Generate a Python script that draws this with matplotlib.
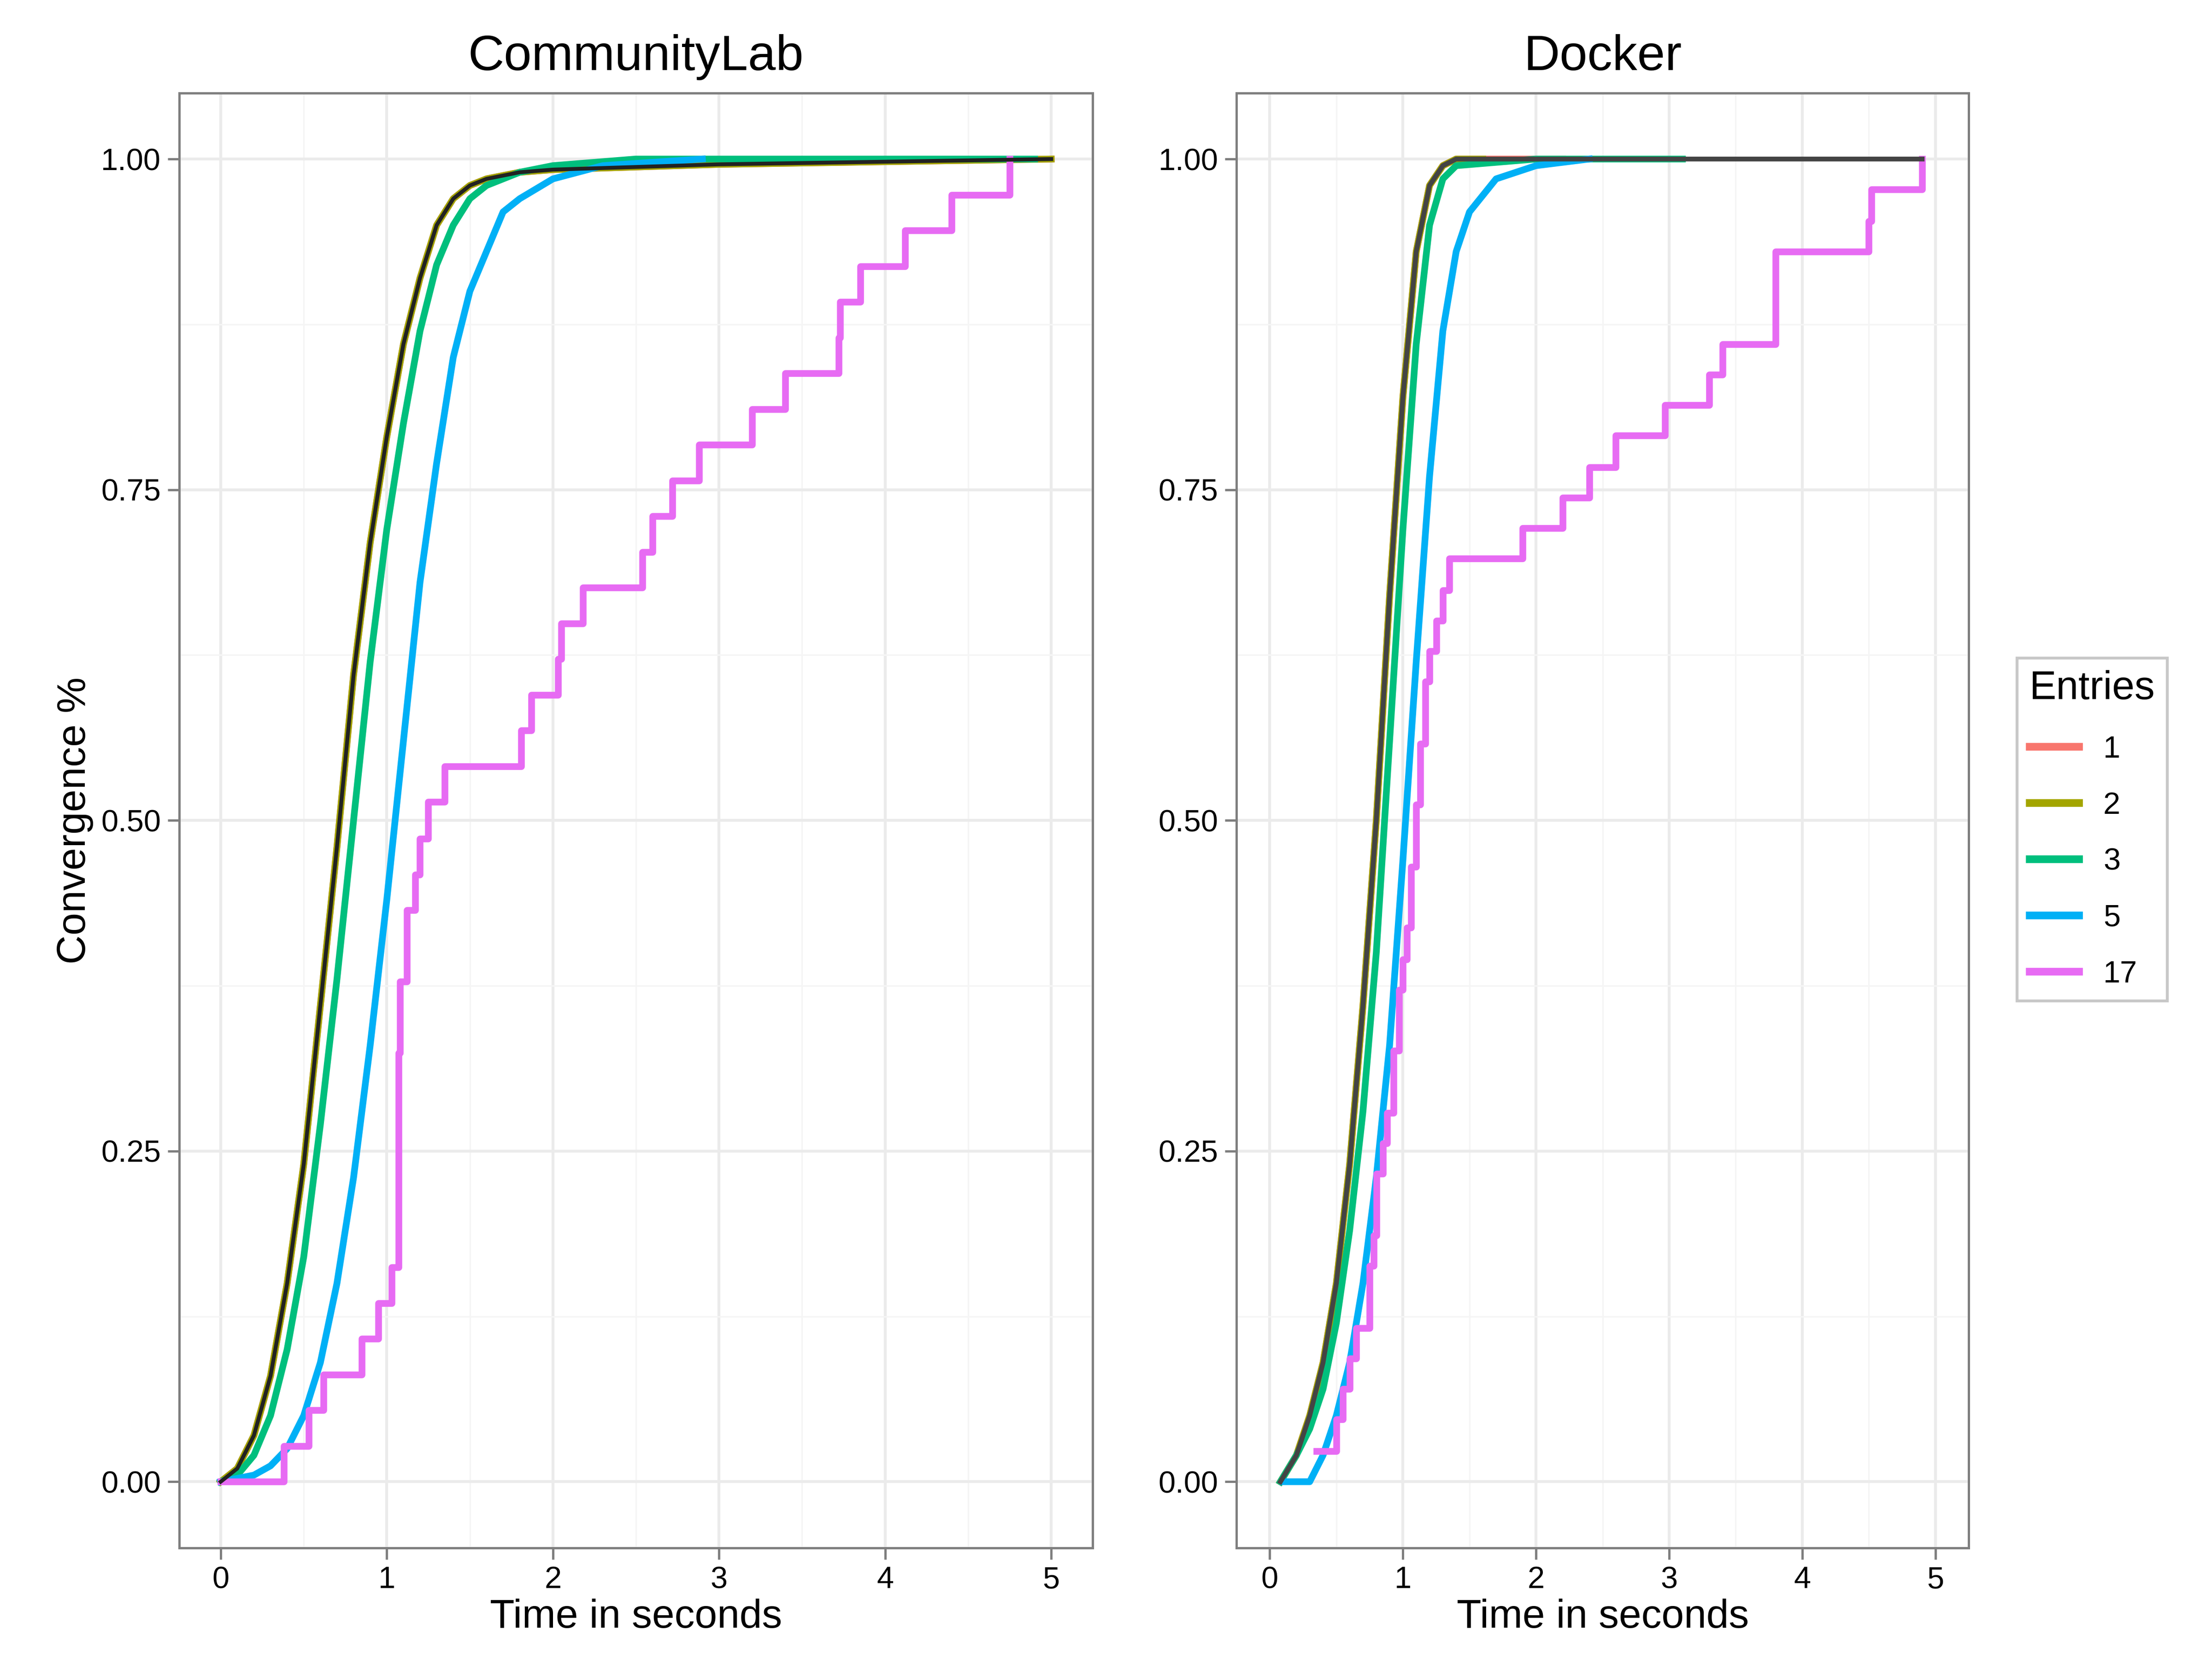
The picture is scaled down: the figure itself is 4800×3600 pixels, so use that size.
import numpy as np
import matplotlib.pyplot as plt
from matplotlib.lines import Line2D

entries = ['1', '2', '3', '5', '17']
colors = ['#F8766D', '#A3A500', '#00BF7D', '#00B0F6', '#E76BF3']

# CommunityLab smooth ECDF knots (time, fraction)
cl_fast_t = [0, 0.1, 0.2, 0.3, 0.4, 0.5, 0.6, 0.7, 0.8, 0.9, 1.0, 1.1, 1.2, 1.3, 1.4, 1.5, 1.6, 1.8, 2.0, 3.0, 4.0, 5.0]
cl_fast_y = [0, 0.01, 0.035, 0.08, 0.15, 0.24, 0.36, 0.48, 0.61, 0.71, 0.79, 0.86, 0.91, 0.95, 0.97, 0.98, 0.985, 0.99, 0.992, 0.996, 0.998, 1.0]
cl_green_t = [0, 0.1, 0.2, 0.3, 0.4, 0.5, 0.6, 0.7, 0.8, 0.9, 1.0, 1.1, 1.2, 1.3, 1.4, 1.5, 1.6, 1.8, 2.0, 2.5, 4.9]
cl_green_y = [0, 0.005, 0.02, 0.05, 0.1, 0.17, 0.27, 0.38, 0.5, 0.62, 0.72, 0.8, 0.87, 0.92, 0.95, 0.97, 0.98, 0.99, 0.995, 1.0, 1.0]
cl_blue_t = [0, 0.2, 0.3, 0.4, 0.5, 0.6, 0.7, 0.8, 0.9, 1.0, 1.1, 1.2, 1.3, 1.4, 1.5, 1.6, 1.7, 1.8, 2.0, 2.3, 2.9]
cl_blue_y = [0, 0.005, 0.012, 0.025, 0.05, 0.09, 0.15, 0.23, 0.33, 0.44, 0.56, 0.68, 0.77, 0.85, 0.9, 0.93, 0.96, 0.97, 0.985, 0.995, 1.0]
cl_17_t = [0, 0.38, 0.53, 0.62, 0.85, 0.95, 1.03, 1.07, 1.08, 1.12, 1.17, 1.2, 1.25, 1.35, 1.47, 1.81, 1.87,
           2.03, 2.05, 2.18, 2.54, 2.6, 2.72, 2.88, 3.2, 3.4, 3.72, 3.73, 3.85, 4.12, 4.4, 4.75]
cl_17_y = [0, 0.027, 0.054, 0.081, 0.108, 0.135, 0.162, 0.324, 0.378, 0.432, 0.459, 0.486, 0.514, 0.541, 0.541,
           0.568, 0.595, 0.622, 0.649, 0.676, 0.703, 0.73, 0.757, 0.784, 0.811, 0.838, 0.865, 0.892, 0.919,
           0.946, 0.973, 1.0]

# Docker smooth ECDF knots
dk_fast_t = [0.08, 0.2, 0.3, 0.4, 0.5, 0.6, 0.7, 0.8, 0.9, 1.0, 1.1, 1.2, 1.3, 1.4, 1.6]
dk_fast_y = [0, 0.02, 0.05, 0.09, 0.15, 0.24, 0.36, 0.5, 0.67, 0.82, 0.93, 0.98, 0.995, 1.0, 1.0]
dk_red_end, dk_olive_end, dk_black_end = 2.2, 1.6, 4.9
dk_green_t = [0.08, 0.2, 0.3, 0.4, 0.5, 0.6, 0.7, 0.8, 0.9, 1.0, 1.1, 1.2, 1.3, 1.4, 2.0, 3.1]
dk_green_y = [0, 0.02, 0.04, 0.07, 0.12, 0.19, 0.28, 0.4, 0.56, 0.72, 0.86, 0.95, 0.985, 0.995, 1.0, 1.0]
dk_blue_t = [0.1, 0.3, 0.4, 0.5, 0.6, 0.7, 0.8, 0.9, 1.0, 1.1, 1.2, 1.3, 1.4, 1.5, 1.7, 2.0, 2.4]
dk_blue_y = [0, 0.0, 0.02, 0.05, 0.09, 0.15, 0.23, 0.33, 0.47, 0.62, 0.76, 0.87, 0.93, 0.96, 0.985, 0.995, 1.0]
dk_17_t = [0.35, 0.5, 0.55, 0.6, 0.65, 0.75, 0.78, 0.8, 0.85, 0.88, 0.93, 0.97, 1.0, 1.03, 1.06, 1.1, 1.13, 1.17,
           1.2, 1.25, 1.3, 1.35, 1.9, 2.2, 2.4, 2.6, 2.97, 3.3, 3.4, 3.8, 4.5, 4.52, 4.9]
dk_17_y = [0.023, 0.047, 0.07, 0.093, 0.116, 0.163, 0.186, 0.233, 0.256, 0.279, 0.326, 0.372, 0.395, 0.419, 0.465,
           0.512, 0.558, 0.605, 0.628, 0.651, 0.674, 0.698, 0.721, 0.744, 0.767, 0.791, 0.814, 0.837, 0.86, 0.93,
           0.953, 0.977, 1.0]


def clip(t, y, end):
    t = np.array(t); y = np.array(y)
    m = t <= end
    return np.append(t[m], end), np.append(y[m], np.interp(end, t, y))


def style(ax, title):
    ax.set_facecolor('white')
    ax.set_xlim(-0.25, 5.25)
    ax.set_ylim(-0.05, 1.05)
    ax.set_xticks([0, 1, 2, 3, 4, 5])
    ax.set_xticks(np.arange(0.5, 5, 1), minor=True)
    ax.set_yticks([0, 0.25, 0.5, 0.75, 1.0])
    ax.set_yticklabels(['0.00', '0.25', '0.50', '0.75', '1.00'])
    ax.set_yticks([0.125, 0.375, 0.625, 0.875], minor=True)
    ax.grid(True, which='major', color='#EBEBEB', lw=1.5)
    ax.grid(True, which='minor', color='#F5F5F5', lw=0.8)
    ax.set_axisbelow(True)
    for s in ax.spines.values():
        s.set_color('#7F7F7F'); s.set_linewidth(1.2)
    ax.tick_params(which='major', length=6, color='#7F7F7F', labelsize=16, width=1.2)
    ax.tick_params(which='minor', length=0)
    ax.set_title(title, fontsize=26, pad=12)
    ax.set_xlabel('Time in seconds', fontsize=21, labelpad=2)


plt.rcParams['font.family'] = ['Liberation Sans', 'DejaVu Sans']
fig = plt.figure(figsize=(16, 12), dpi=300)
ax1 = fig.add_axes([0.081, 0.067, 0.413, 0.877])
ax2 = fig.add_axes([0.559, 0.067, 0.331, 0.877])
lw = 3.5

ax1.plot(cl_fast_t, cl_fast_y, color=colors[0], lw=lw)
ax1.plot(cl_fast_t, cl_fast_y, color=colors[1], lw=lw)
ax1.plot(cl_green_t, cl_green_y, color=colors[2], lw=lw)
ax1.plot(cl_blue_t, cl_blue_y, color=colors[3], lw=lw)
ax1.step(cl_17_t, cl_17_y, where='post', color=colors[4], lw=lw)
ax1.plot(cl_fast_t, cl_fast_y, color='#222222', lw=2)
style(ax1, 'CommunityLab')
ax1.set_ylabel('Convergence %', fontsize=21)

t, y = clip(dk_fast_t, dk_fast_y, dk_red_end)
ax2.plot(t, y, color=colors[0], lw=lw)
t, y = clip(dk_fast_t, dk_fast_y, dk_olive_end)
ax2.plot(t, y, color=colors[1], lw=lw)
ax2.plot(dk_green_t, dk_green_y, color=colors[2], lw=lw)
ax2.plot(dk_blue_t, dk_blue_y, color=colors[3], lw=lw)
ax2.step(dk_17_t, dk_17_y, where='post', color=colors[4], lw=lw)
t, y = clip(dk_fast_t, dk_fast_y, dk_black_end)
ax2.plot(t, y, color='#444444', lw=2.5)
style(ax2, 'Docker')

handles = [Line2D([], [], color=c, lw=4) for c in colors]
leg = fig.legend(handles, entries, title='Entries', loc='center left', bbox_to_anchor=(0.905, 0.5),
                 fontsize=16, title_fontsize=21, frameon=True, edgecolor='#BBBBBB', fancybox=False,
                 handlelength=1.6, labelspacing=0.9, alignment='left', borderpad=0.4)
leg.get_frame().set_linewidth(1.5)

fig.savefig('out.png', dpi=300)
